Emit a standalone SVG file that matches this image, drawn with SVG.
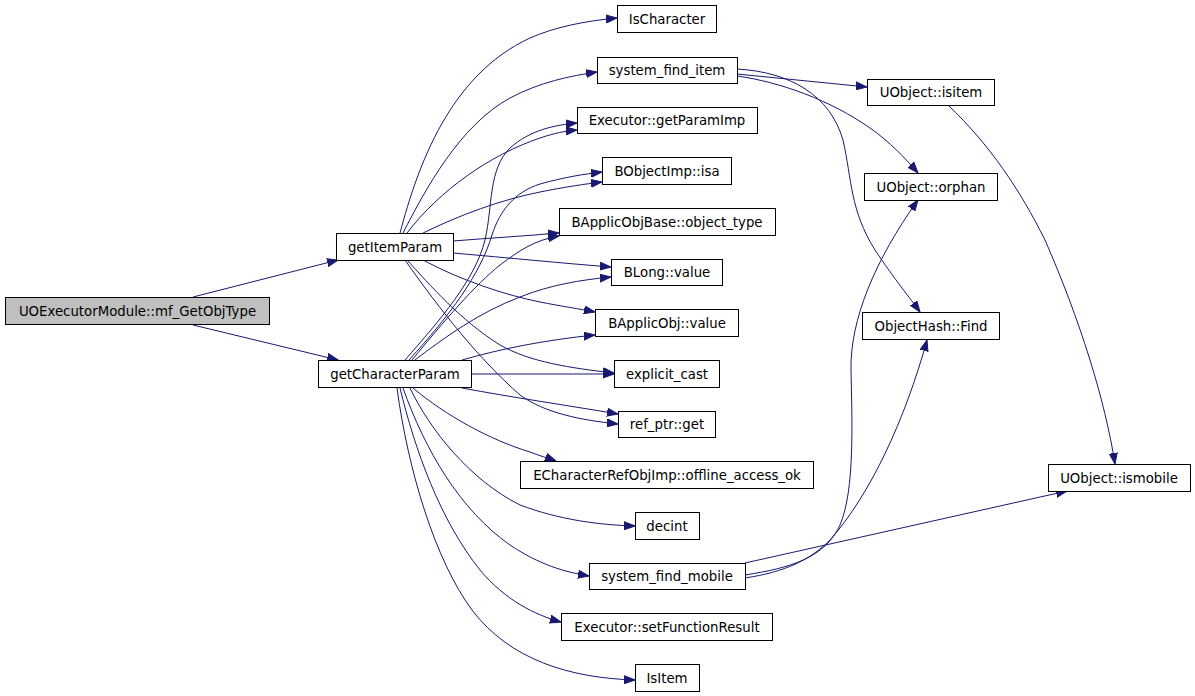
<svg xmlns="http://www.w3.org/2000/svg" width="1195" height="696" viewBox="0 0 1195 696">
<style>
.n rect{fill:#fff;stroke:#000;stroke-width:1}
.n.main rect{fill:#bfbfbf}
.n text{font-family:"DejaVu Sans",sans-serif;font-size:13.3px;text-anchor:middle;fill:#000}
#edges path{fill:none;stroke:#191970;stroke-width:1;marker-end:url(#arr)}
</style>
<defs>
<marker id="arr" markerUnits="userSpaceOnUse" markerWidth="12" markerHeight="9" refX="11" refY="4.5" orient="auto">
<path d="M0,0.5 L11,4.5 L0,8.5 z" fill="#191970" stroke="#191970" stroke-width="1"/>
</marker>
</defs>
<rect width="1195" height="696" fill="#fff"/>
<g id="edges">
<path d="M193,297 L338,260"/>
<path d="M193,325 L338,360"/>
<path d="M400,233 C418,165 450,75 530,38 C555,27 585,21 617,18"/>
<path d="M403,233 C425,190 460,125 510,98 C540,82 570,76 597,72"/>
<path d="M407,233 C440,190 490,155 540,138 C555,133 565,131 577,130"/>
<path d="M405,360 C440,320 475,280 485,240 C493,205 488,170 510,148 C530,130 555,125 577,123"/>
<path d="M409,360 C450,315 480,275 492,235 C500,210 515,192 540,184 C565,177 585,174 602,172"/>
<path d="M423,233 C460,215 500,200 540,192 C565,187 585,184 602,182"/>
<path d="M412,360 C445,320 475,285 500,265 C520,250 535,240 559,236"/>
<path d="M453,241 C490,238 525,236 559,233"/>
<path d="M453,253 C510,258 560,263 611,267"/>
<path d="M415,360 C445,337 480,312 520,297 C550,285 580,280 611,277"/>
<path d="M423,260 C460,280 505,295 540,302 C560,306 580,309 595,312"/>
<path d="M462,360 C500,349 545,340 595,335"/>
<path d="M471,374 L614,374"/>
<path d="M407,260 C430,285 460,320 500,345 C530,362 570,368 614,373"/>
<path d="M462,388 C510,397 565,405 618,414"/>
<path d="M405,260 C440,310 480,360 520,395 C545,413 580,420 618,424"/>
<path d="M413,388 C445,415 490,440 530,452 C540,456 548,458 556,461"/>
<path d="M410,388 C430,430 470,480 520,505 C560,520 600,525 635,526"/>
<path d="M403,388 C425,450 460,510 510,545 C540,565 565,572 589,576"/>
<path d="M400,388 C415,450 440,520 480,570 C505,600 535,615 561,622"/>
<path d="M397,388 C408,470 435,560 472,610 C510,660 570,678 635,680"/>
<path d="M737,74 L867,87"/>
<path d="M737,76 C780,82 830,100 870,128 C890,142 905,158 918,173"/>
<path d="M737,69 C790,72 830,95 843,140 C852,180 850,210 875,250 C895,280 910,298 920,312"/>
<path d="M745,563 L1067,491"/>
<path d="M745,575 C790,568 825,558 840,525 C855,490 852,420 851,370 C850,320 875,260 918,200"/>
<path d="M745,578 C785,572 810,560 830,540 C870,495 905,420 927,340"/>
<path d="M948,105 C990,145 1020,190 1045,240 C1080,320 1105,400 1115,464"/>
</g>
<g id="n_mf" class="n main"><rect x="5.5" y="297.5" width="264" height="27"/><text x="137.5" y="315.5">UOExecutorModule::mf_GetObjType</text></g>
<g id="n_getItemParam" class="n"><rect x="336.5" y="233.5" width="117" height="27"/><text x="395" y="251.5">getItemParam</text></g>
<g id="n_getCharacterParam" class="n"><rect x="318.5" y="360.5" width="153" height="27"/><text x="395" y="378.5">getCharacterParam</text></g>
<g id="n_IsCharacter" class="n"><rect x="617.5" y="5.5" width="99" height="27"/><text x="667" y="23.5">IsCharacter</text></g>
<g id="n_system_find_item" class="n"><rect x="597.5" y="57.5" width="140" height="26"/><text x="667" y="75">system_find_item</text></g>
<g id="n_getParamImp" class="n"><rect x="577.5" y="107.5" width="180" height="26"/><text x="667" y="125">Executor::getParamImp</text></g>
<g id="n_isa" class="n"><rect x="602.5" y="157.5" width="129" height="27"/><text x="667" y="175.5">BObjectImp::isa</text></g>
<g id="n_object_type" class="n"><rect x="559.5" y="208.5" width="216" height="27"/><text x="667" y="226.5">BApplicObjBase::object_type</text></g>
<g id="n_BLong_value" class="n"><rect x="611.5" y="259.5" width="111" height="26"/><text x="667" y="277">BLong::value</text></g>
<g id="n_BApplicObj_value" class="n"><rect x="595.5" y="309.5" width="143" height="27"/><text x="667" y="327.5">BApplicObj::value</text></g>
<g id="n_explicit_cast" class="n"><rect x="614.5" y="360.5" width="105" height="27"/><text x="667" y="378.5">explicit_cast</text></g>
<g id="n_ref_ptr_get" class="n"><rect x="618.5" y="411.5" width="97" height="26"/><text x="667" y="429">ref_ptr::get</text></g>
<g id="n_offline" class="n"><rect x="520.5" y="461.5" width="293" height="27"/><text x="667" y="479.5">ECharacterRefObjImp::offline_access_ok</text></g>
<g id="n_decint" class="n"><rect x="635.5" y="512.5" width="64" height="27"/><text x="667" y="530.5">decint</text></g>
<g id="n_system_find_mobile" class="n"><rect x="589.5" y="563.5" width="156" height="26"/><text x="667" y="581">system_find_mobile</text></g>
<g id="n_setFunctionResult" class="n"><rect x="561.5" y="613.5" width="211" height="27"/><text x="667" y="631.5">Executor::setFunctionResult</text></g>
<g id="n_IsItem" class="n"><rect x="635.5" y="664.5" width="64" height="27"/><text x="667" y="682.5">IsItem</text></g>
<g id="n_isitem" class="n"><rect x="867.5" y="79.5" width="127" height="26"/><text x="931" y="97">UObject::isitem</text></g>
<g id="n_orphan" class="n"><rect x="864.5" y="173.5" width="133" height="27"/><text x="931" y="191.5">UObject::orphan</text></g>
<g id="n_Find" class="n"><rect x="862.5" y="312.5" width="137" height="27"/><text x="931" y="330.5">ObjectHash::Find</text></g>
<g id="n_ismobile" class="n"><rect x="1048.5" y="464.5" width="142" height="27"/><text x="1119" y="482.5">UObject::ismobile</text></g>
</svg>
